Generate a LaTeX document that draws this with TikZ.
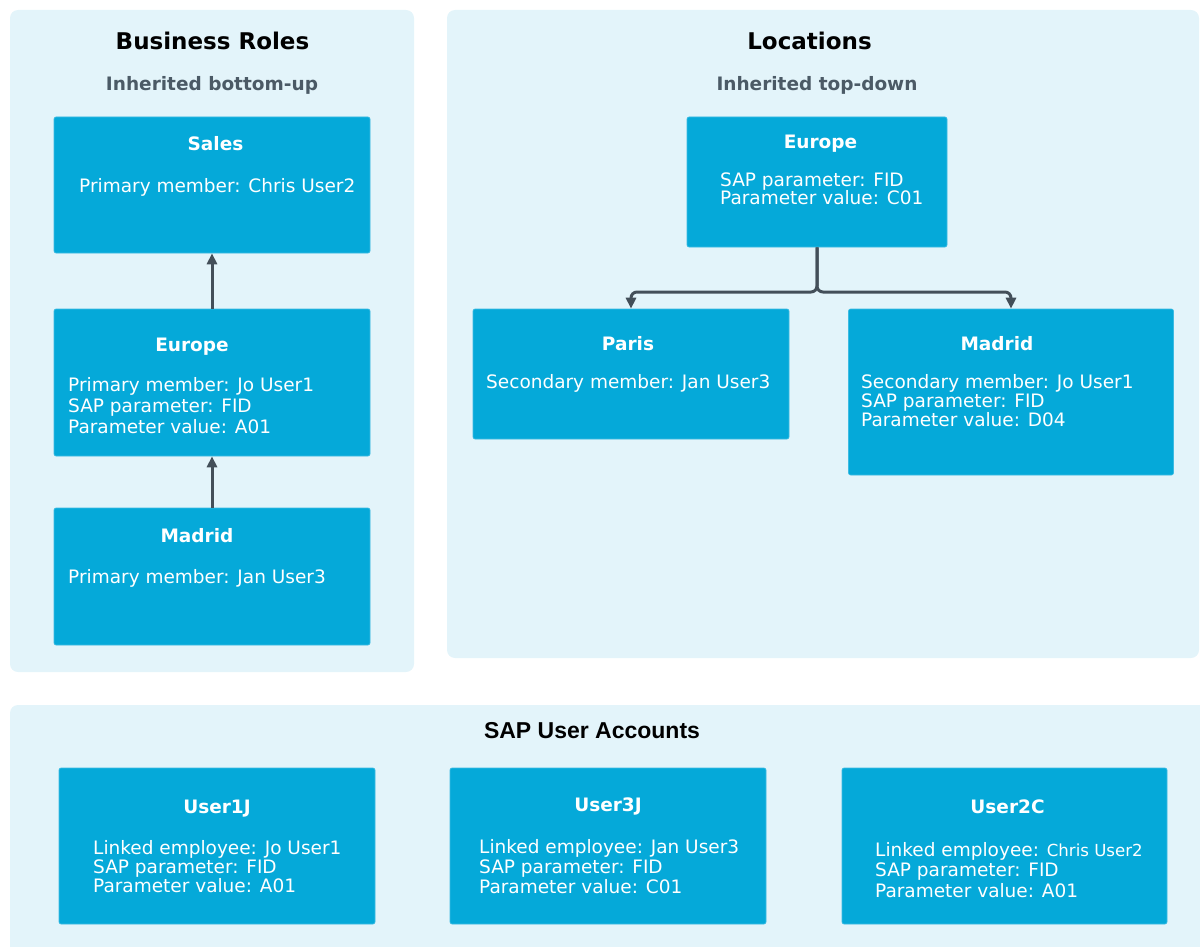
\documentclass[tikz,border=0pt]{standalone}
\usepackage{fontspec}
\setmainfont{DejaVu Sans}
\newfontfamily\arialfont{Liberation Sans}
\usetikzlibrary{arrows.meta}
\definecolor{panelbg}{HTML}{E3F4FA}
\definecolor{boxbg}{HTML}{05A9D9}
\definecolor{boxedge}{HTML}{3DBBE2}
\definecolor{arrowc}{HTML}{434F59}
\definecolor{subc}{HTML}{4B5A66}
\begin{document}
\begin{tikzpicture}[x=1pt,y=-1pt,
 panel/.style={fill=panelbg, draw=none, rounded corners=8pt},
 card/.style={fill=boxbg, draw=boxedge, line width=0.6pt, rounded corners=2pt, inner sep=0pt},
 ptitle/.style={font=\fontsize{23}{27}\selectfont\bfseries, anchor=base, inner sep=0pt},
 psub/.style={font=\fontsize{18.5}{22}\selectfont\bfseries, text=subc, anchor=base, inner sep=0pt},
 ctitle/.style={font=\fontsize{18.5}{22}\selectfont\bfseries, text=white, anchor=base, inner sep=0pt},
 cbody/.style={font=\fontsize{18.5}{19}\selectfont, text=white, anchor=base west, align=left, inner sep=0pt},
 link/.style={draw=arrowc, line width=3pt, -{Triangle[length=11pt,width=10pt]}},
]
\useasboundingbox (0,0) rectangle (1200,947);
% panels
\path[panel] (10,10) rectangle (414,672);
\path[panel] (447,10) rectangle (1199,658);
\path[panel] (10,705) rectangle (1230,980);
% panel titles
\node[ptitle] (brt) at (212.5,50) {Business Roles};
\node[psub] (brs) at (212,91) {Inherited bottom-up};
\node[ptitle] (loct) at (809.5,50) {Locations};
\node[psub] (locs) at (817,91) {Inherited top-down};
\node[ptitle, font=\arialfont\fontsize{23}{27}\selectfont\bfseries] (sapt) at (592,738) {SAP User Accounts};
% cards
\node[card, minimum width=316, minimum height=136] (sales) at (212,185) {};
\node[card, minimum width=316, minimum height=147] (breur) at (212,382.5) {};
\node[card, minimum width=316, minimum height=137] (brmad) at (212,576.5) {};
\node[card, minimum width=260, minimum height=130] (loceur) at (817,182) {};
\node[card, minimum width=316, minimum height=130] (paris) at (631,374) {};
\node[card, minimum width=325, minimum height=166] (locmad) at (1011,392) {};
\node[card, minimum width=316, minimum height=156] (u1) at (217,846) {};
\node[card, minimum width=316, minimum height=156] (u3) at (608,846) {};
\node[card, minimum width=325, minimum height=156] (u2) at (1004.5,846) {};
% card titles
\node[ctitle] (salest) at (215.5,151) {Sales};
\node[ctitle] (breurt) at (192,351) {Europe};
\node[ctitle] (brmadt) at (197,542) {Madrid};
\node[ctitle] (loceurt) at (820.5,149) {Europe};
\node[ctitle] (parist) at (628,350) {Paris};
\node[ctitle] (locmadt) at (997,350) {Madrid};
\node[ctitle] (u1t) at (217,813) {User1J};
\node[ctitle] (u3t) at (608,811) {User3J};
\node[ctitle] (u2t) at (1007.5,813) {User2C};
% card bodies (anchor = baseline of last line)
\node[cbody] (salesb) at (79,193) {Primary member: Chris User2};
\node[cbody, font=\fontsize{18.5}{21}\selectfont] (breurb) at (68,433) {Primary member: Jo User1\\SAP parameter: FID\\Parameter value: A01};
\node[cbody] (brmadb) at (68,583) {Primary member: Jan User3};
\node[cbody, font=\fontsize{18.5}{18.5}\selectfont] (loceurb) at (720,204.5) {SAP parameter: FID\\Parameter value: C01};
\node[cbody] (parisb) at (486,388) {Secondary member: Jan User3};
\node[cbody] (locmadb) at (861,426) {Secondary member: Jo User1\\SAP parameter: FID\\Parameter value: D04};
\node[cbody] (u1b) at (93,892) {Linked employee: Jo User1\\SAP parameter: FID\\Parameter value: A01};
\node[cbody, font=\fontsize{18.5}{20}\selectfont] (u3b) at (479,893) {Linked employee: Jan User3\\SAP parameter: FID\\Parameter value: C01};
\node[cbody, font=\fontsize{18.5}{20.5}\selectfont] (u2b) at (875,897) {Linked employee: {\fontsize{16.6}{20.5}\selectfont Chris User2}\\SAP parameter: FID\\Parameter value: A01};
% connectors
\draw[link] (breur.north) -- (sales.south);
\draw[link] (brmad.north) -- (breur.south);
\coordinate (fork) at (817,292);
\draw[link, rounded corners=6pt] (loceur.south) -- (fork) -| (paris.north);
\draw[link, rounded corners=6pt] (loceur.south) -- (fork) -| (locmad.north);
\end{tikzpicture}
\end{document}
